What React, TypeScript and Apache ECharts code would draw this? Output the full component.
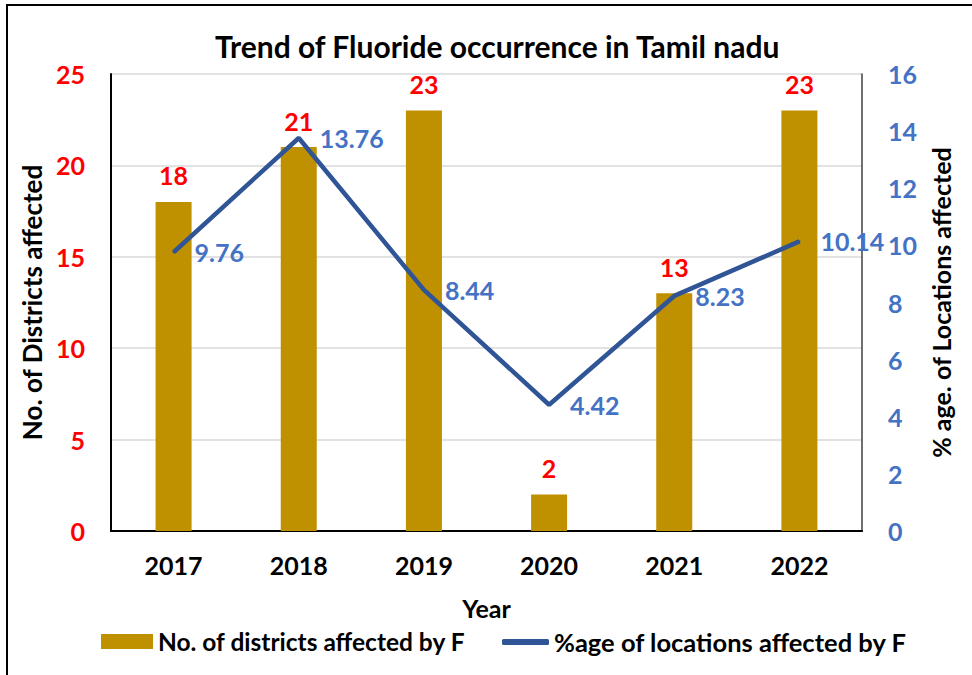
import React, { useEffect, useRef } from "react";
import * as echarts from "echarts";

const years = ["2017", "2018", "2019", "2020", "2021", "2022"];
const districtsAffected = [18, 21, 23, 2, 13, 23];
const locationsPct = [9.76, 13.76, 8.44, 4.42, 8.23, 10.14];
const barName = "No. of districts affected by F";
const lineName = "%age of locations affected by F";

const FONT = "Lato";

export default function App() {
  const ref = useRef<HTMLDivElement>(null);
  useEffect(() => {
    if (!ref.current) return;
    const chart = echarts.init(ref.current, undefined, { renderer: "svg" });
    chart.setOption({
      animation: false,
      backgroundColor: "#ffffff",
      textStyle: { fontFamily: FONT, fontWeight: "bold" },
      title: {
        text: "Trend of Fluoride occurrence in Tamil nadu",
        left: 210,
        top: 26,
        textStyle: { fontFamily: FONT, fontWeight: "bold", fontSize: 30, color: "#000" },
      },
      graphic: [
        {
          type: "rect",
          shape: { x: 7, y: 5, width: 1000, height: 700 },
          style: { fill: "none", stroke: "#000", lineWidth: 2 },
          silent: true,
        },
      ],
      legend: [
        {
          data: [barName],
          left: 96,
          top: 624,
          itemWidth: 52,
          itemHeight: 15,
          itemGap: 4,
          icon: "rect",
          textStyle: { fontFamily: FONT, fontWeight: "bold", fontSize: 24.5, color: "#000" },
        },
        {
          data: [{ name: lineName, icon: "roundRect" }],
          left: 497,
          top: 624,
          itemWidth: 47,
          itemHeight: 6,
          textStyle: { fontFamily: FONT, fontWeight: "bold", fontSize: 25.5, color: "#000" },
        },
      ],
      grid: { left: 111, right: 110, top: 74, bottom: 144 },
      xAxis: {
        type: "category",
        data: years,
        name: "Year",
        nameLocation: "middle",
        nameGap: 64,
        nameTextStyle: { fontFamily: FONT, fontWeight: "bold", fontSize: 25, color: "#000" },
        axisLine: { lineStyle: { color: "#000", width: 2 } },
        axisTick: { show: false },
        axisLabel: { margin: 21, fontFamily: FONT, fontWeight: "bold", fontSize: 25, color: "#000" },
      },
      yAxis: [
        {
          type: "value",
          min: 0,
          max: 25,
          interval: 5,
          name: "No. of Districts affected",
          nameLocation: "middle",
          nameGap: 63,
          nameTextStyle: { fontFamily: FONT, fontWeight: "bold", fontSize: 26, color: "#000" },
          axisLine: { show: true, lineStyle: { color: "#000", width: 2 } },
          axisTick: { show: false },
          splitLine: { lineStyle: { color: "#D9D9D9", width: 1.5 } },
          axisLabel: { margin: 26, fontFamily: FONT, fontWeight: "bold", fontSize: 25, color: "#FF0000" },
        },
        {
          type: "value",
          min: 0,
          max: 16,
          interval: 2,
          name: "% age. of Locations affected",
          nameLocation: "middle",
          nameGap: 66,
          nameRotate: 90,
          nameTextStyle: { fontFamily: FONT, fontWeight: "bold", fontSize: 25, color: "#000" },
          axisLine: { show: true, lineStyle: { color: "#404040", width: 1.5 } },
          axisTick: { show: false },
          splitLine: { show: false },
          axisLabel: { margin: 26, fontFamily: FONT, fontWeight: "bold", fontSize: 25, color: "#4472C4" },
        },
      ],
      series: [
        {
          name: barName,
          type: "bar",
          data: districtsAffected,
          barWidth: 36,
          itemStyle: { color: "#BF9000" },
          label: {
            show: true,
            position: "top",
            distance: 14,
            fontFamily: FONT,
            fontWeight: "bold",
            fontSize: 25,
            color: "#FF0000",
          },
        },
        {
          name: lineName,
          type: "line",
          yAxisIndex: 1,
          data: locationsPct,
          symbol: "circle",
          symbolSize: 2,
          lineStyle: { color: "#2F5597", width: 4.5 },
          itemStyle: { color: "#2F5597" },
          label: {
            show: true,
            position: "right",
            distance: 20,
            fontFamily: FONT,
            fontWeight: "bold",
            fontSize: 25,
            color: "#4472C4",
          },
        },
      ],
    });
    return () => chart.dispose();
  }, []);
  return (
    <div
      ref={ref}
      style={{ position: "absolute", left: 0, top: 0, width: 972, height: 675 }}
    />
  );
}
